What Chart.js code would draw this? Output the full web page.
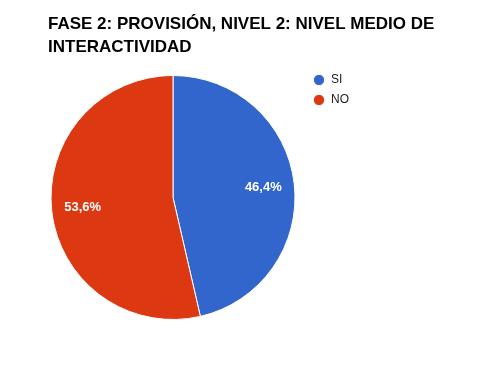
<!DOCTYPE html>
<html>
<head>
<meta charset="utf-8">
<script src="https://cdn.jsdelivr.net/npm/chart.js@4"></script>
<style>
html,body{margin:0;padding:0;background:#fff;}
#wrap{width:504px;height:369px;position:relative;}
</style>
</head>
<body>
<div id="wrap"><canvas id="c" width="504" height="369"></canvas></div>
<script>
const titleLines = ['FASE 2: PROVISIÓN, NIVEL 2: NIVEL MEDIO DE', 'INTERACTIVIDAD'];
const categories = ['SI', 'NO'];
const values = [46.4, 53.6];
const colors = ['#3366CC', '#DC3912'];

const PIE_CX = 173, PIE_CY = 197.5, PIE_R = 122;
const LEGEND_LEFT = 305, LEGEND_TOP = 66;

const placePlugin = {
  id: 'place',
  afterLayout(chart) {
    const lg = chart.legend;
    if (lg) {
      const w = lg.right - lg.left, h = lg.bottom - lg.top;
      lg.left = LEGEND_LEFT; lg.right = LEGEND_LEFT + w;
      lg.top = LEGEND_TOP; lg.bottom = LEGEND_TOP + h;
    }
    const ca = chart.chartArea;
    const half = PIE_R + 2;
    ca.left = PIE_CX - half; ca.right = PIE_CX + half;
    ca.top = PIE_CY - half; ca.bottom = PIE_CY + half;
    ca.width = 2 * half; ca.height = 2 * half;
  }
};

const labelPlugin = {
  id: 'sliceLabels',
  afterDatasetsDraw(chart) {
    const ctx = chart.ctx;
    const meta = chart.getDatasetMeta(0);
    const data = chart.data.datasets[0].data;
    const total = data.reduce((a, b) => a + b, 0);
    ctx.save();
    ctx.font = 'bold 13px "Liberation Sans", Arial, sans-serif';
    ctx.fillStyle = '#ffffff';
    ctx.textAlign = 'center';
    ctx.textBaseline = 'middle';
    meta.data.forEach((arc, i) => {
      const p = arc.getProps(['x', 'y', 'startAngle', 'endAngle', 'outerRadius'], true);
      const mid = (p.startAngle + p.endAngle) / 2;
      const r = p.outerRadius * 0.745;
      const txt = (data[i] / total * 100).toFixed(1).replace('.', ',') + '%';
      ctx.fillText(txt, p.x + Math.cos(mid) * r, p.y + Math.sin(mid) * r);
    });
    ctx.restore();
  }
};

new Chart(document.getElementById('c'), {
  type: 'pie',
  data: {
    labels: categories,
    datasets: [{
      data: values,
      backgroundColor: colors,
      borderColor: '#ffffff',
      borderWidth: 1,
      hoverOffset: 0
    }]
  },
  options: {
    responsive: false,
    animation: false,
    radius: PIE_R,
    layout: { padding: { left: 48, right: 40, top: 0, bottom: 40 } },
    plugins: {
      title: {
        display: true,
        text: titleLines,
        align: 'start',
        color: '#000000',
        font: { family: '"Liberation Sans", Arial, sans-serif', size: 17, weight: 'bold', lineHeight: 23 / 17 },
        padding: { top: 13, bottom: 7 }
      },
      legend: {
        display: true,
        position: 'right',
        align: 'start',
        labels: {
          usePointStyle: true,
          pointStyle: 'circle',
          boxWidth: 12,
          boxHeight: 8,
          padding: 8,
          color: '#222222',
          font: { family: '"Liberation Sans", Arial, sans-serif', size: 12, lineHeight: 1 }
        }
      },
      tooltip: { enabled: false }
    }
  },
  plugins: [placePlugin, labelPlugin]
});
</script>
</body>
</html>
